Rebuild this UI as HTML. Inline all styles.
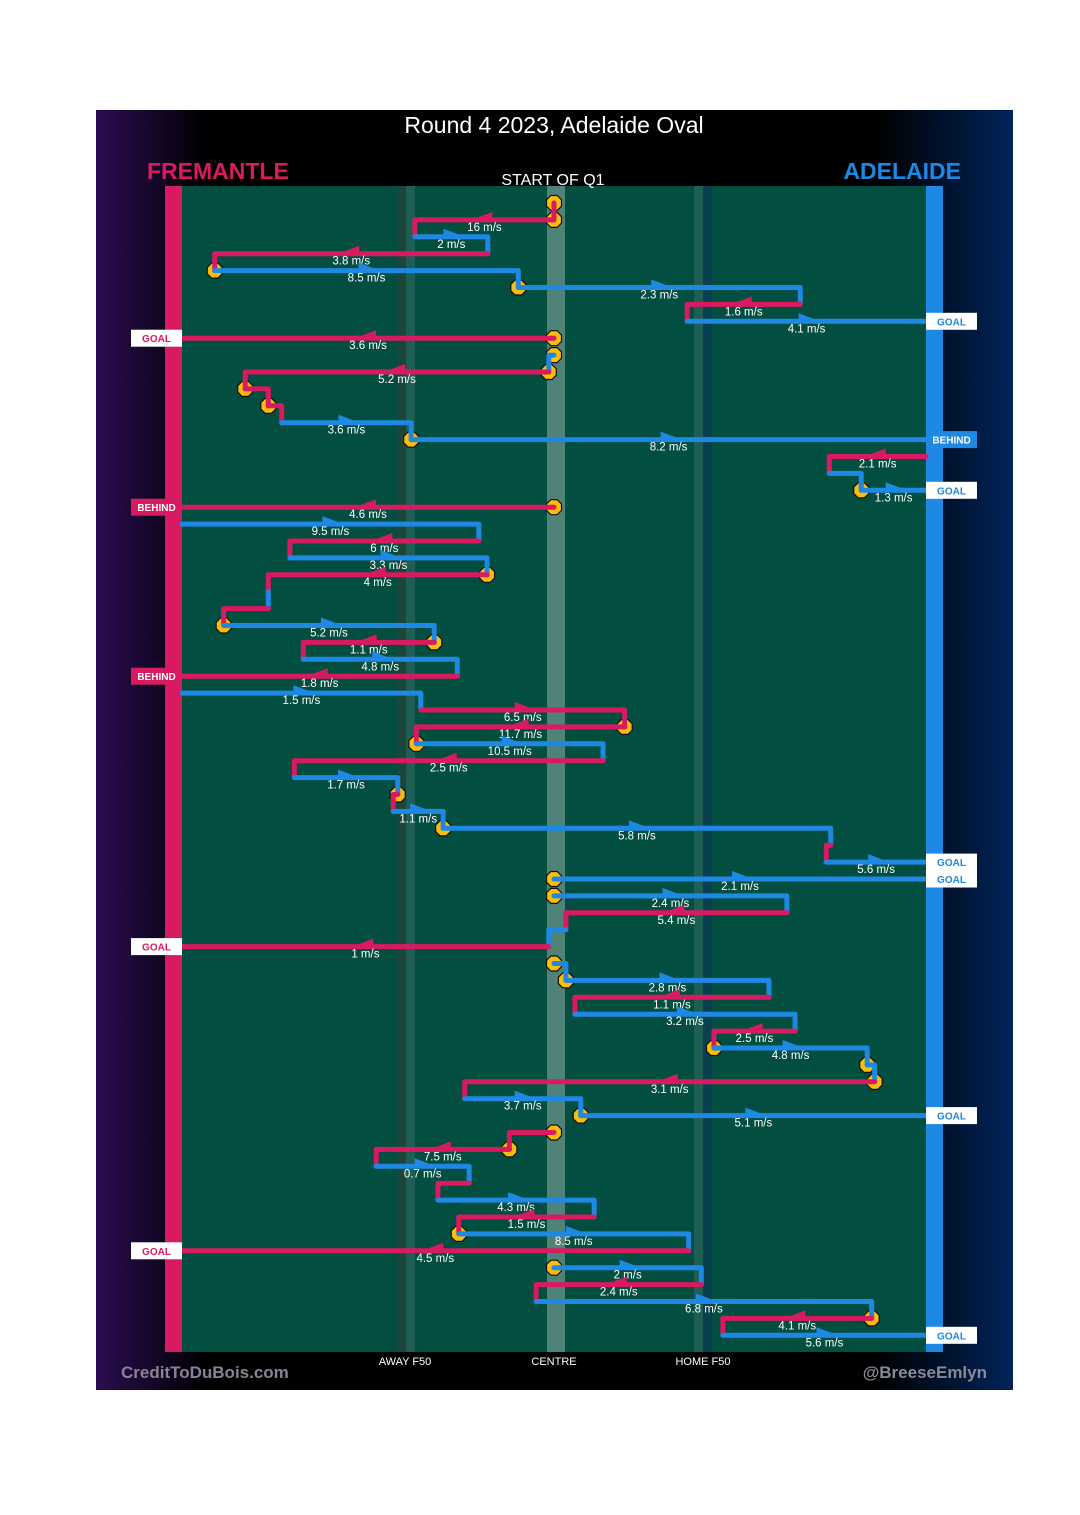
<!DOCTYPE html>
<html><head><meta charset="utf-8">
<style>
html,body{margin:0;padding:0;background:#fff;}
svg{display:block;}
text{font-family:"Liberation Sans",sans-serif;}
</style></head>
<body>
<svg id="chart" width="1080" height="1515" viewBox="0 0 1080 1515" xmlns="http://www.w3.org/2000/svg">
<defs>
<linearGradient id="bg" x1="0" x2="1" y1="0" y2="0">
<stop offset="0" stop-color="#2b0d52"/>
<stop offset="0.12" stop-color="#000"/>
<stop offset="0.85" stop-color="#000"/>
<stop offset="1" stop-color="#012459"/>
</linearGradient>
</defs>
<rect x="96" y="110" width="917" height="1280" fill="url(#bg)"/>
<rect x="182" y="186" width="744" height="1166" fill="#024e41"/>
<rect x="397" y="186" width="9" height="1166" fill="#1d463b"/>
<rect x="406" y="186" width="9" height="1166" fill="#1f5e54"/>
<rect x="547" y="186" width="18" height="1166" fill="#4f8378"/>
<rect x="694" y="186" width="9" height="1166" fill="#1f5e54"/>
<rect x="703" y="186" width="9" height="1166" fill="#08404f"/>
<rect x="165" y="186" width="17" height="1166" fill="#d81b60"/>
<rect x="926" y="186" width="17" height="1166" fill="#1e88e5"/>
<text x="554" y="133" fill="#fff" font-size="23" text-anchor="middle">Round 4 2023, Adelaide Oval</text>
<text x="147" y="179" fill="#d81b60" font-size="23" font-weight="bold">FREMANTLE</text>
<text x="961" y="179" fill="#1e88e5" font-size="23" font-weight="bold" text-anchor="end">ADELAIDE</text>
<text x="553" y="185" fill="#fff" font-size="16" text-anchor="middle">START OF Q1</text>
<text x="405" y="1365" fill="#fff" font-size="11" text-anchor="middle">AWAY F50</text>
<text x="554" y="1365" fill="#fff" font-size="11" text-anchor="middle">CENTRE</text>
<text x="703" y="1365" fill="#fff" font-size="11" text-anchor="middle">HOME F50</text>
<text x="121" y="1378" fill="#8a8296" font-size="17" font-weight="bold">CreditToDuBois.com</text>
<text x="987" y="1378" fill="#8a8a96" font-size="17" font-weight="bold" text-anchor="end">@BreeseEmlyn</text>
<g id="marks"></g>
</svg>
<script>
// end position of each possession row (% of field, 0 = Fremantle goal, 100 = Adelaide goal)
const endPos = [50,31.3,41.1,4.4,45.2,83.1,67.9,100,0,49.3,8.5,11.6,13.4,30.8,100,87,91.3,100,0,39.9,14.5,41,11.6,11.6,5.6,33.9,16.3,37,0,32.1,59.5,31.5,56.6,15.1,29,28.4,35.1,87.2,86.6,100,100,81.3,51.6,49.3,0,51.6,78.9,52.8,82.4,71.5,92.1,93.1,38,53.6,100,44,26.1,38.6,34.4,55.4,37.2,68.1,0,69.8,47.6,92.7,72.7,100];
const teams = ["F","F","A","F","A","A","F","A","F","A","F","F","F","A","A","F","A","A","F","A","F","A","F","A","F","A","F","A","F","A","F","F","A","F","A","F","A","A","F","A","A","A","F","A","F","A","A","F","A","F","A","A","F","A","A","F","F","A","F","A","F","A","F","A","F","A","F","A"];
const speeds = ["","16","2","3.8","8.5","2.3","1.6","4.1","3.6","","5.2","","","3.6","8.2","2.1","","1.3","4.6","9.5","6","3.3","4","","","5.2","1.1","4.8","1.8","1.5","6.5","11.7","10.5","2.5","1.7","","1.1","5.8","","5.6","2.1","2.4","5.4","","1","","2.8","1.1","3.2","2.5","4.8","","3.1","3.7","5.1","","7.5","0.7","","4.3","1.5","8.5","4.5","2","2.4","6.8","4.1","5.6"];
const outcomeRows = [7,8,14,17,18,28,39,40,44,54,62,67];
const outcomes = ["GOAL","GOAL","BEHIND","GOAL","BEHIND","BEHIND","GOAL","GOAL","GOAL","GOAL","GOAL","GOAL"];
const contestRows = [0,1,4,5,8,9,10,11,12,14,17,18,22,25,26,31,32,35,37,40,41,45,46,50,51,52,54,55,56,61,63,66];

const NS = "http://www.w3.org/2000/svg";
const X0 = 182, X1 = 926, Y0 = 203, ROW = 16.9;
function xScale(v){ return X0 + (X1 - X0) * v / 100; }
function yScale(r){ return Y0 + ROW * r; }
const COL = {F:"#d81b60", A:"#1e88e5"};
const g = document.getElementById("marks");
function mk(tag, attrs){ const e = document.createElementNS(NS, tag); for (const k in attrs) e.setAttribute(k, attrs[k]); return e; }

const outcomeOf = {};
outcomeRows.forEach((r,i)=>{ outcomeOf[r] = outcomes[i]; });

// compute starts
const starts = [];
for (let i = 0; i < endPos.length; i++) {
  if (i === 0) starts.push(50);
  else if (outcomeOf[i-1] === "GOAL") starts.push(50);
  else starts.push(endPos[i-1]);
}

// circles (contests)
contestRows.forEach(r => {
  const cx = xScale(starts[r]), cy = yScale(r), s = 7.5, q = 3.2;
  const pts = [[-q,-s],[q,-s],[s,-q],[s,q],[q,s],[-q,s],[-s,q],[-s,-q]].map(p=>(cx+p[0])+","+(cy+p[1])).join(" ");
  const c = mk("polygon", {points: pts, fill:"#fbbd0a", stroke:"#111", "stroke-width":"1.2"});
  
  
  g.appendChild(c);
});

// lines
for (let i = 0; i < endPos.length; i++) {
  const y = yScale(i), xs = xScale(starts[i]), xe = xScale(endPos[i]), col = COL[teams[i]];
  let d = "M" + xs + " " + y + " H" + xe;
  if (!outcomeOf[i] && i < endPos.length - 1) d += " V" + yScale(i+1);
  const p = mk("path", {d: d, fill:"none", stroke: col, "stroke-width":"5", "stroke-linejoin":"round", "stroke-linecap":"round"});
  
  
  g.appendChild(p);
}

// arrows and labels
for (let i = 0; i < endPos.length; i++) {
  if (!speeds[i]) continue;
  const y = yScale(i), xs = xScale(starts[i]), xe = xScale(endPos[i]), col = COL[teams[i]];
  const mid = (xs + xe) / 2, dir = xe >= xs ? 1 : -1;
  const a = mk("polygon", {points: (mid - dir*8) + "," + (y-8) + " " + (mid + dir*8) + "," + (y-2) + " " + (mid - dir*8) + "," + (y+2), fill: col});
  
  
  g.appendChild(a);
  const t = mk("text", {x: mid, y: y + 11, fill:"#fff", "font-size":"11.5", "text-anchor":"middle"});
  t.textContent = speeds[i] + " m/s";
  
  
  g.appendChild(t);
}

// outcome boxes
outcomeRows.forEach((r,i) => {
  const y = yScale(r), team = teams[r], left = endPos[r] < 50, type = outcomes[i];
  const bx = left ? 131 : 926, col = COL[team];
  const behind = type === "BEHIND";
  const box = mk("rect", {x: bx, y: y - 8.5, width: 51, height: 17, fill: behind ? col : "#fff"});
  
  
  g.appendChild(box);
  const t = mk("text", {x: bx + 25.5, y: y + 4, fill: behind ? "#fff" : col, "font-size":"10", "font-weight":"bold", "text-anchor":"middle"});
  t.textContent = type;
  
  
  g.appendChild(t);
});
</script>
</body></html>
